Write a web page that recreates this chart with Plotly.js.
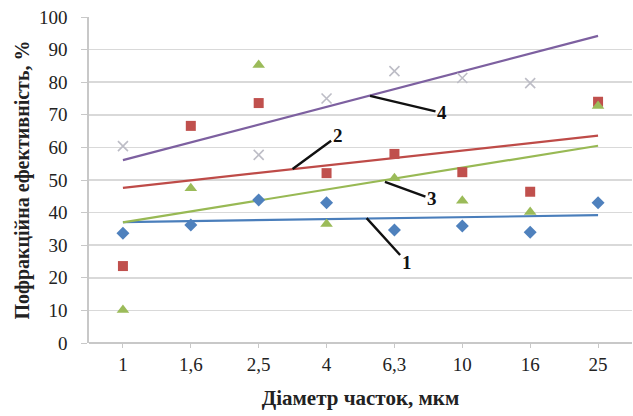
<!DOCTYPE html>
<html>
<head>
<meta charset="utf-8">
<script src="https://cdn.plot.ly/plotly-3.0.1.min.js"></script>
<style>html,body{margin:0;padding:0;background:#fff;}#chart{width:633px;height:416px;}</style>
</head>
<body>
<div id="chart"></div>
<script>
// Categories (particle diameter, µm)
const categories = ['1', '1,6', '2,5', '4', '6,3', '10', '16', '25'];
// Fractional efficiency, %
const series1 = [33.7, 36.2, 43.9, 43.0, 34.7, 35.9, 34.0, 43.0];
const series2 = [23.6, 66.6, 73.6, 52.1, 58.0, 52.4, 46.4, 74.0];
const series3 = [10.1, 47.5, 85.3, 36.5, 50.5, 43.6, 40.2, 72.7];
const series4 = [60.4, null, 57.7, 75.0, 83.4, 81.3, 79.7, null];
// Linear trend lines: values at first and last category
const trend1 = [37.1, 39.2];
const trend2 = [47.6, 63.6];
const trend3 = [37.0, 60.5];
const trend4 = [56.1, 94.2];
const trendLabels = ['1', '2', '3', '4'];
const yTicks = [0, 10, 20, 30, 40, 50, 60, 70, 80, 90, 100];

const ends = [categories[0], categories[categories.length - 1]];
const serif = 'Liberation Serif, Times New Roman, serif';

const traces = [
  {x: ends, y: trend1, mode: 'lines', line: {color: '#4a7ebb', width: 2.2}, hoverinfo: 'skip'},
  {x: ends, y: trend2, mode: 'lines', line: {color: '#be4b48', width: 2.2}, hoverinfo: 'skip'},
  {x: ends, y: trend3, mode: 'lines', line: {color: '#98b954', width: 2.2}, hoverinfo: 'skip'},
  {x: ends, y: trend4, mode: 'lines', line: {color: '#7d60a0', width: 2.2}, hoverinfo: 'skip'},
  {x: categories, y: series1, mode: 'markers', marker: {symbol: 'diamond', size: 10, color: '#4f81bd'}},
  {x: categories, y: series2, mode: 'markers', marker: {symbol: 'square', size: 10, color: '#c0504d'}},
  {x: categories, y: series3, mode: 'markers', marker: {symbol: 'triangle-up', size: 11, color: '#9bbb59'}},
  {x: categories, y: series4, mode: 'markers', marker: {symbol: 'x-thin', size: 10, line: {color: '#bdbdc6', width: 1.6}}}
];

function ann(text, xi, y, ax, ay) {
  return {x: xi, y: y, xref: 'x', yref: 'y', text: '<b>' + text + '</b>', showarrow: true,
    arrowhead: 0, arrowwidth: 2.4, arrowcolor: '#111', ax: ax, ay: ay, standoff: 0,
    font: {family: serif, size: 19, color: '#111'}};
}

const layout = {
  width: 633, height: 416,
  margin: {l: 89, r: 1, t: 17, b: 73},
  paper_bgcolor: '#fff', plot_bgcolor: '#fff',
  showlegend: false,
  font: {family: serif, size: 19, color: '#222'},
  xaxis: {
    type: 'category', categoryorder: 'array', categoryarray: categories,
    range: [-0.5, 7.5],
    showgrid: false, zeroline: false,
    showline: false,
    ticks: 'outside', ticklen: 4, tickcolor: '#c8c8c8', tickwidth: 1,
    tickfont: {family: serif, size: 19, color: '#222'},
    title: {text: '<b>Діаметр часток, мкм</b>', font: {family: serif, size: 21, color: '#222'}, standoff: 16}
  },
  yaxis: {
    range: [0, 100], tickvals: yTicks, ticktext: yTicks.map(String),
    showgrid: true, gridcolor: '#d9d9d9', gridwidth: 1.6,
    zeroline: true, zerolinecolor: '#c8c8c8', zerolinewidth: 1.6,
    showline: true, linecolor: '#c8c8c8', linewidth: 1.6,
    ticks: 'outside', ticklen: 6, tickcolor: '#c8c8c8',
    ticklabelstandoff: 10,
    tickfont: {family: serif, size: 19, color: '#222'},
    title: {text: '<b>Пофракційна ефективність, %</b>', font: {family: serif, size: 20, color: '#222'}, standoff: 4}
  },
  annotations: [
    ann(trendLabels[0], 3.59, 38.3, 40, 44),
    ann(trendLabels[1], 2.50, 53.4, 45, -33),
    ann(trendLabels[2], 3.86, 49.4, 47, 17),
    ann(trendLabels[3], 3.64, 75.8, 72, 17)
  ]
};

Plotly.newPlot('chart', traces, layout, {displayModeBar: false, staticPlot: true});
</script>
</body>
</html>
